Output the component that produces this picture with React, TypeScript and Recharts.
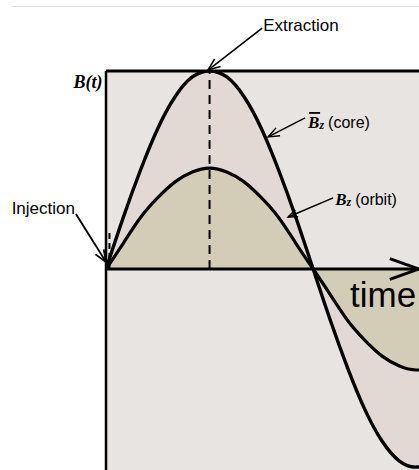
import React from "react";
import {
  ComposedChart,
  Area,
  Line,
  XAxis,
  YAxis,
  CartesianGrid,
  ReferenceLine,
} from "recharts";

// phase of the cycle in degrees (90 = peak field)
const phase = [0, 15, 30, 45, 60, 75, 90, 105, 120, 135, 150, 165, 180, 195, 210, 225, 240, 255, 270, 285];
// average field inside the orbit (core)
const coreField = [0, 0.26, 0.5, 0.71, 0.87, 0.97, 1, 0.97, 0.87, 0.71, 0.5, 0.26, 0, -0.26, -0.5, -0.71, -0.87, -0.97, -1, -0.97];
// guide field at the orbit, about half of the core field
const orbitField = [0, 0.13, 0.26, 0.36, 0.44, 0.49, 0.51, 0.49, 0.44, 0.36, 0.26, 0.13, 0, -0.13, -0.26, -0.36, -0.44, -0.49, -0.51, -0.49];

const data = phase.map((p, i) => ({ t: p, core: coreField[i], orbit: orbitField[i] }));

const W = 419;
const H = 470;
const SANS = "'Liberation Sans', Arial, sans-serif";
const SERIF = "'Liberation Serif', 'Times New Roman', serif";

type Pt = { x1: number; y1: number; x2: number; y2: number };

// line with an open V head at its end, plus whatever label is attached at its start
const arrow = (headLen: number, spread: number, width: number, label?: (x: number, y: number) => React.ReactNode) =>
  (p: any) => {
    const { x1, y1, x2, y2 } = p as Pt;
    const a = Math.atan2(y2 - y1, x2 - x1);
    const h1x = x2 - headLen * Math.cos(a - spread);
    const h1y = y2 - headLen * Math.sin(a - spread);
    const h2x = x2 - headLen * Math.cos(a + spread);
    const h2y = y2 - headLen * Math.sin(a + spread);
    return (
      <g>
        <line x1={x1} y1={y1} x2={x2} y2={y2} stroke="#000" strokeWidth={width} />
        <polyline
          points={`${h1x},${h1y} ${x2},${y2} ${h2x},${h2y}`}
          fill="none"
          stroke="#000"
          strokeWidth={width}
          strokeLinejoin="miter"
        />
        {label && label(x1, y1)}
      </g>
    );
  };

const BzLabel = ({ x, y, bar, tail }: { x: number; y: number; bar: boolean; tail: string }) => (
  <g>
    {bar && <line x1={x + 1} y1={y - 15} x2={x + 12} y2={y - 15} stroke="#000" strokeWidth={1.8} />}
    <text x={x} y={y} fontFamily={SERIF} fontSize={17} fill="#000">
      <tspan fontWeight="bold" fontStyle="italic">B</tspan>
      <tspan fontWeight="bold" fontStyle="italic" fontSize={12} dy={1}>z</tspan>
      <tspan fontFamily={SANS} fontSize={16} dy={-1} dx={4}>{tail}</tspan>
    </text>
  </g>
);

export default function App() {
  return (
    <div style={{ position: "absolute", left: 0, top: 0, width: W, height: H, background: "#ffffff", overflow: "hidden" }}>
      <div style={{ position: "absolute", left: 12, top: 6, width: W - 12, height: 1, background: "#dcdcdc" }} />
      <ComposedChart
        width={W}
        height={H}
        data={data}
        margin={{ top: 71, right: 0, bottom: 0, left: 106 }}
        style={{ position: "absolute", left: 0, top: 0 }}
      >
        <CartesianGrid fill="#e7e4e1" fillOpacity={1} horizontal={false} vertical={false} />
        <XAxis dataKey="t" type="number" domain={[0, 272]} allowDataOverflow hide />
        <YAxis type="number" domain={[-1.015, 1]} allowDataOverflow hide />

        <Area
          type="natural"
          dataKey={(d: any) => [d.orbit, d.core]}
          fill="#e2d9d4"
          fillOpacity={1}
          stroke="none"
          isAnimationActive={false}
        />
        <Area
          type="natural"
          dataKey="orbit"
          baseValue={0}
          fill="#d3cdb7"
          fillOpacity={1}
          stroke="none"
          isAnimationActive={false}
        />

        <ReferenceLine
          y={0}
          ifOverflow="visible"
          shape={arrow(31, 0.34, 3, (x, y) => (
            <text x={350} y={y + 38} fontFamily={SANS} fontSize={35} fill="#000">time</text>
          ))}
        />
        <ReferenceLine y={1} stroke="#000" strokeWidth={3} ifOverflow="visible" />
        <ReferenceLine x={0} stroke="#000" strokeWidth={2.5} ifOverflow="visible" />

        <ReferenceLine
          segment={[{ x: 90, y: 0 }, { x: 90, y: 1 }]}
          stroke="#000"
          strokeWidth={2}
          strokeDasharray="9 6"
          ifOverflow="visible"
        />
        <ReferenceLine
          segment={[{ x: 3, y: 0 }, { x: 3, y: 0.19 }]}
          stroke="#000"
          strokeWidth={2}
          strokeDasharray="6 4"
          ifOverflow="visible"
        />

        <Line type="natural" dataKey="core" stroke="#000" strokeWidth={3.4} dot={false} isAnimationActive={false} />
        <Line type="natural" dataKey="orbit" stroke="#000" strokeWidth={3.2} dot={false} isAnimationActive={false} />

        <ReferenceLine
          segment={[{ x: 135.7, y: 1.217 }, { x: 88.7, y: 1.005 }]}
          ifOverflow="visible"
          shape={arrow(13, 0.38, 1.6, (x, y) => (
            <text x={x + 1} y={y + 3} fontFamily={SANS} fontSize={17} fill="#000">Extraction</text>
          ))}
        />
        <ReferenceLine
          segment={[{ x: -26.1, y: 0.278 }, { x: 0, y: 0.035 }]}
          ifOverflow="visible"
          shape={arrow(13, 0.38, 1.8, (x, y) => (
            <text x={x - 1} y={y} textAnchor="end" fontFamily={SANS} fontSize={17} fill="#000">Injection</text>
          ))}
        />
        <ReferenceLine
          segment={[{ x: 173, y: 0.763 }, { x: 140.9, y: 0.667 }]}
          ifOverflow="visible"
          shape={arrow(12, 0.38, 1.5, (x, y) => <BzLabel x={x + 3} y={y + 10} bar tail="(core)" />)}
        />
        <ReferenceLine
          segment={[{ x: 197.4, y: 0.359 }, { x: 158.3, y: 0.263 }]}
          ifOverflow="visible"
          shape={arrow(10, 0.38, 1.5, (x, y) => <BzLabel x={x + 2} y={y + 7} bar={false} tail="(orbit)" />)}
        />
        <ReferenceLine
          segment={[{ x: -3, y: 0.92 }, { x: -3, y: 0.92 }]}
          ifOverflow="visible"
          shape={(p: any) => (
            <text x={p.x1} y={p.y1 + 1} textAnchor="end" fontFamily={SERIF} fontWeight="bold" fontStyle="italic" fontSize={18} fill="#000">
              B(t)
            </text>
          )}
        />
      </ComposedChart>
    </div>
  );
}
